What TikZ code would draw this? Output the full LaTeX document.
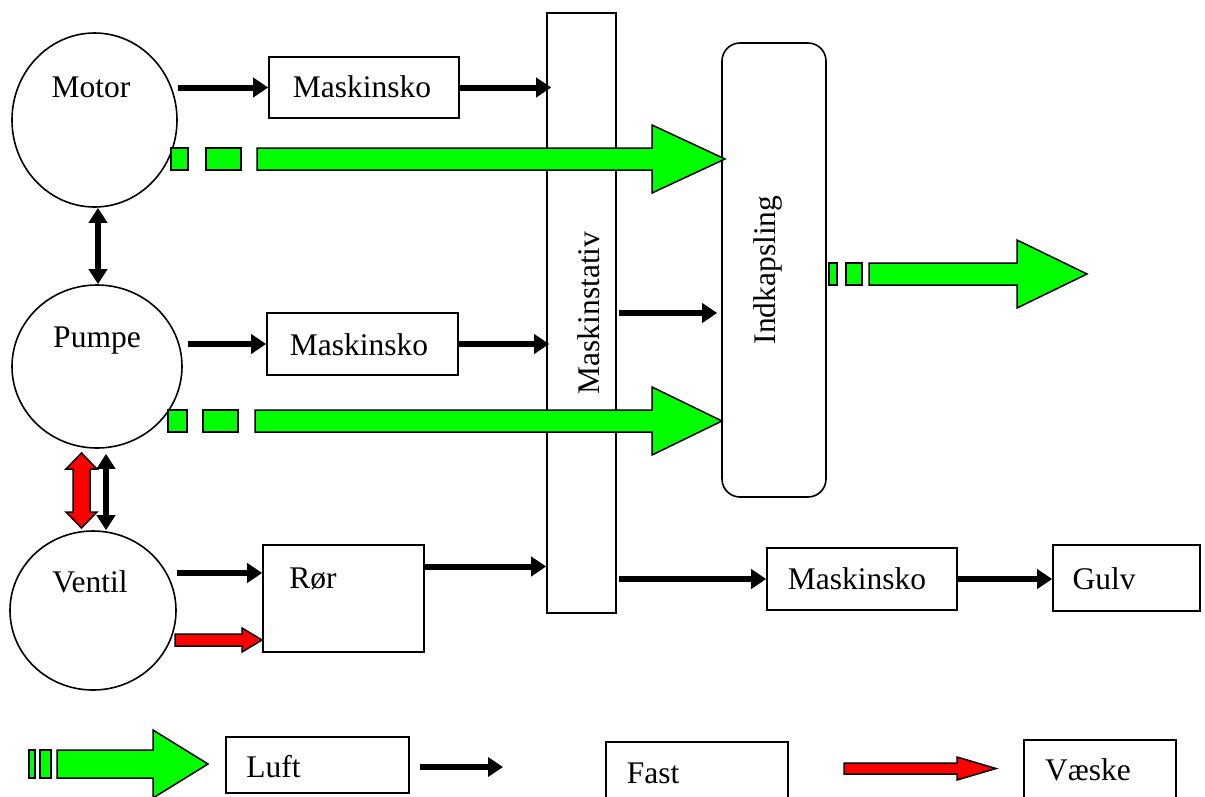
\documentclass[tikz,border=0pt]{standalone}
\usepackage{fontspec}
\setmainfont{Liberation Serif}
\usetikzlibrary{arrows.meta,shapes.geometric}
\definecolor{lgreen}{RGB}{0,255,0}
\definecolor{lred}{RGB}{255,0,0}
\begin{document}
\begin{tikzpicture}[x=1pt,y=-1pt,
  box/.style={draw,line width=1.6pt,inner sep=0pt,anchor=center},
  ell/.style={ellipse,draw,line width=1.6pt,inner sep=0pt},
  lbl/.style={font=\fontsize{31.5}{36}\selectfont,inner sep=0pt,anchor=base},
  fast/.style={line width=6pt,-{Triangle[length=15pt,width=19pt]}},
  fastboth/.style={line width=5.5pt,{Triangle[length=15pt,width=18pt]}-{Triangle[length=15pt,width=18pt]}},
  luft/.style={fill=lgreen,draw=black,line width=1.5pt,line join=miter},
  vaeske/.style={fill=lred,draw=black,line width=1.5pt,line join=miter}]
\useasboundingbox (0,0) rectangle (1205,796);
\clip (0,0) rectangle (1205,796);
\fill[white] (0,0) rectangle (1205,796);

% circles
\node[ell,minimum width=165pt,minimum height=174pt] (motor) at (94.5,120) {};
\node[ell,minimum width=170pt,minimum height=163pt] (pumpe) at (97,366.5) {};
\node[ell,minimum width=166pt,minimum height=159pt] (ventil) at (93,610.5) {};
\node[lbl] (tmotor) at (91,97) {Motor};
\node[lbl] (tpumpe) at (97,347) {Pumpe};
\node[lbl] (tventil) at (90,592) {Ventil};

% boxes
\node[box,minimum width=190pt,minimum height=61pt] (mk1) at (364,87.5) {};
\node[lbl] (tmk1) at (362,97) {Maskinsko};
\node[box,minimum width=191pt,minimum height=62pt] (mk2) at (362.5,344) {};
\node[lbl] (tmk2) at (359,355) {Maskinsko};
\node[box,minimum width=161pt,minimum height=107pt] (ror) at (343.5,598.5) {};
\node[lbl] (tror) at (313,588) {Rør};
\node[box,minimum width=69pt,minimum height=600pt] (stativ) at (581.5,313) {};
\node[lbl,rotate=90] (tstativ) at (599,313) {Maskinstativ};
\node[box,rounded corners=18pt,minimum width=104pt,minimum height=454pt] (indk) at (774,270) {};
\node[lbl,rotate=90] (tindk) at (775,270) {Indkapsling};
\node[box,minimum width=190pt,minimum height=62pt] (mk3) at (862,579) {};
\node[lbl] (tmk3) at (857,589) {Maskinsko};
\node[box,minimum width=147pt,minimum height=66pt] (gulv) at (1126.5,578) {};
\node[lbl] (tgulv) at (1104,589) {Gulv};

% legend boxes
\node[box,minimum width=183pt,minimum height=56pt] (lluft) at (317.5,765) {};
\node[lbl] (tluft) at (273.5,777) {Luft};
\node[box,minimum width=182pt,minimum height=60pt] (lfast) at (697,772) {};
\node[lbl] (tfast) at (653,783) {Fast};
\node[box,minimum width=152pt,minimum height=60pt] (lvaeske) at (1100,770) {};
\node[lbl] (tvaeske) at (1088,780) {Væske};

% black (fast) connectors
\draw[fast] (motor.east |- mk1.west) -- (mk1.west);
\draw[fast,shorten >=-5pt] (mk1.east) -- (mk1.east -| stativ.west);
\draw[fastboth] ([xshift=3.5pt]motor.south) -- ([xshift=3.5pt]motor.south |- pumpe.north);
\draw[fast,shorten <=5pt] (pumpe.east |- mk2.west) -- (mk2.west);
\draw[fast,shorten >=-3pt] (mk2.east) -- (mk2.east -| stativ.west);
\draw[fast,shorten <=2pt,shorten >=4pt] (stativ.east) -- (indk.west |- stativ.east);
\draw[fastboth,shorten <=5pt] ([xshift=9pt]pumpe.south) -- ([xshift=13pt]ventil.north);
\coordinate (r1) at ([yshift=25.5pt]ror.west);
\draw[fast] (ventil.east |- r1) -- (r1);
\coordinate (r2) at ([yshift=32pt]ror.east);
\draw[fast] (r2) -- (r2 -| stativ.west);
\draw[fast,shorten <=2pt] (mk3.west -| stativ.east) -- (mk3.west);
\draw[fast] (mk3.east) -- (mk3.east -| gulv.west);
\coordinate (lf1) at (420,767);
\coordinate (lf2) at (503,767);
\draw[fast] (lf1) -- (lf2);

% green (luft) arrows
\draw[luft] (171,148) rectangle (188,170);
\draw[luft] (206,148) rectangle (241,170);
\draw[luft] (257,148) -- (652,148) -- (652,125) -- (725,159) -- (652,193) -- (652,170) -- (257,170) -- cycle;

\draw[luft] (168,410) rectangle (187,432);
\draw[luft] (203,410) rectangle (238,432);
\draw[luft] (255,410) -- (652,410) -- (652,387) -- (722,421) -- (652,455) -- (652,432) -- (255,432) -- cycle;

\draw[luft] (829,263) rectangle (837,285);
\draw[luft] (846,263) rectangle (862,285);
\draw[luft] (869,263) -- (1017,263) -- (1017,240) -- (1087,274) -- (1017,308) -- (1017,285) -- (869,285) -- cycle;

\draw[luft] (29,750) rectangle (35,778);
\draw[luft] (40,750) rectangle (51,778);
\draw[luft] (57,750) -- (153,750) -- (153,730) -- (208,764) -- (153,798) -- (153,778) -- (57,778) -- cycle;

% red (vaeske) arrows
\draw[vaeske] (81.5,453) -- (97,469) -- (90,469) -- (90,512) -- (97,512) -- (81.5,528) -- (66,512) -- (73,512) -- (73,469) -- (66,469) -- cycle;
\draw[vaeske] (175,634) -- (242,634) -- (242,628) -- (262,640) -- (242,652) -- (242,646) -- (175,646) -- cycle;
\draw[vaeske] (844,763) -- (957,763) -- (957,757) -- (996,768.5) -- (957,780) -- (957,774) -- (844,774) -- cycle;
\end{tikzpicture}
\end{document}
